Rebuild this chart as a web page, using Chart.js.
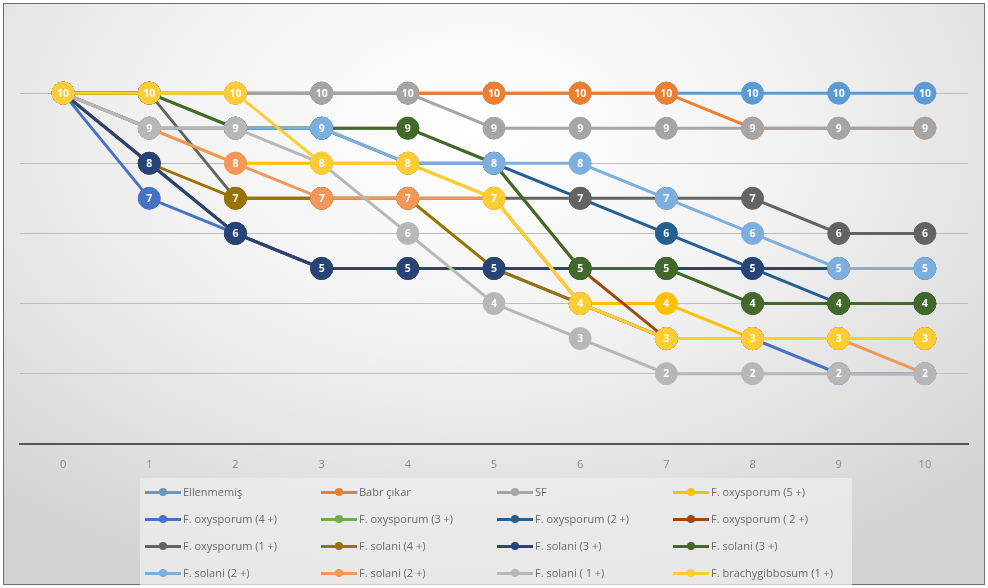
<!DOCTYPE html>
<html>
<head>
<meta charset="utf-8">
<script src="https://cdn.jsdelivr.net/npm/chart.js@4.4.1/dist/chart.umd.min.js"></script>
<style>
  html, body { margin: 0; padding: 0; }
  body { width: 988px; height: 588px; overflow: hidden; background: #ffffff; }
  #frame {
    position: absolute; left: 3px; top: 3px; width: 980px; height: 580px;
    border: 1px solid #6f6f6f;
    background: radial-gradient(ellipse 75% 85% at 48% 22%, #ffffff 0%, #f1f1f1 45%, #dedede 80%, #d2d2d2 100%);
  }
  #chartBox { position: absolute; left: 0; top: 0; width: 988px; height: 588px; }
  #legend {
    position: absolute; left: 140px; top: 478px; width: 712px; height: 107px;
    background: rgba(238,238,238,0.75);
    display: grid; grid-template-columns: repeat(4, 176px); grid-auto-rows: 27px;
    font-family: "Open Sans", "Liberation Sans", sans-serif; font-size: 11px; color: #6a6a6a;
  }
  .item { display: flex; align-items: center; padding-left: 5px; white-space: nowrap; }
  .mark { position: relative; width: 36px; height: 10px; margin-right: 2px; flex: none; }
  .mark .ln { position: absolute; left: 0; right: 0; top: 4px; height: 3px; }
  .mark .dot { position: absolute; left: 14px; top: 1px; width: 8px; height: 8px; border-radius: 50%; }
</style>
</head>
<body>
<div id="frame"></div>
<div id="chartBox"><canvas id="c" width="988" height="588"></canvas></div>
<div id="legend"></div>
<script>
// Category positions along the x axis
const xLabels = ['0', '1', '2', '3', '4', '5', '6', '7', '8', '9', '10'];

// Series names, in legend order
const seriesNames = [
  'Ellenmemiş', 'Babr çıkar', 'SF', 'F. oxysporum (5 +)',
  'F. oxysporum (4 +)', 'F. oxysporum (3 +)', 'F. oxysporum (2 +)', 'F. oxysporum ( 2 +)',
  'F. oxysporum (1 +)', 'F. solani (4 +)', 'F. solani (3 +)', 'F. solani (3 +)',
  'F. solani (2 +)', 'F. solani (2 +)', 'F. solani ( 1 +)', 'F. brachygibbosum (1 +)'
];

// Values of each series at x = 0 … 10
const ellenmemis  = [10, 10, 10, 10, 10, 10, 10, 10, 10, 10, 10];
const babrCikar   = [10, 10, 10, 10, 10, 10, 10, 10, 9, 9, 9];
const sf          = [10, 10, 10, 10, 10, 9, 9, 9, 9, 9, 9];
const oxy5        = [10, 9, 8, 8, 8, 7, 4, 4, 3, 3, 3];
const oxy4        = [10, 7, 6, 5, 5, 5, 4, 3, 3, 2, 2];
const oxy3        = [10, 10, 9, 9, 9, 8, 5, 5, 4, 4, 4];
const oxy2a       = [10, 9, 9, 9, 8, 8, 7, 6, 5, 4, 4];
const oxy2b       = [10, 8, 6, 5, 5, 5, 5, 3, 3, 3, 3];
const oxy1        = [10, 10, 7, 7, 7, 7, 7, 7, 7, 6, 6];
const solani4     = [10, 8, 7, 7, 7, 5, 4, 3, 3, 3, 3];
const solani3a    = [10, 8, 6, 5, 5, 5, 5, 5, 5, 5, 5];
const solani3b    = [10, 10, 9, 9, 9, 8, 5, 5, 4, 4, 4];
const solani2a    = [10, 9, 9, 9, 8, 8, 8, 7, 6, 5, 5];
const solani2b    = [10, 9, 8, 7, 7, 7, 4, 3, 3, 3, 2];
const solani1     = [10, 9, 9, 8, 6, 4, 3, 2, 2, 2, 2];
const brachy      = [10, 10, 10, 8, 8, 7, 4, 3, 3, 3, 3];

const seriesValues = [
  ellenmemis, babrCikar, sf, oxy5, oxy4, oxy3, oxy2a, oxy2b,
  oxy1, solani4, solani3a, solani3b, solani2a, solani2b, solani1, brachy
];

const seriesColors = [
  '#5B9BD5', '#ED7D31', '#A5A5A5', '#FFC000', '#4472C4', '#70AD47', '#255E91', '#9E480E',
  '#636363', '#997300', '#264478', '#43682B', '#7CAFDD', '#F1975A', '#B7B7B7', '#FFCD33'
];

// White value labels centred on each marker, drawn right after their own series
const valueLabels = {
  id: 'valueLabels',
  afterDatasetDraw(chart, args) {
    const ctx = chart.ctx;
    const ds = chart.data.datasets[args.index];
    ctx.save();
    ctx.font = 'bold 10.5px "Open Sans", "Liberation Sans", sans-serif';
    ctx.fillStyle = '#ffffff';
    ctx.textAlign = 'center';
    ctx.textBaseline = 'middle';
    args.meta.data.forEach((pt, i) => {
      ctx.fillText(String(ds.data[i]), pt.x, pt.y + 0.5);
    });
    ctx.restore();
  }
};

const n = seriesNames.length;
const datasets = seriesNames.map((name, i) => ({
  label: name,
  data: seriesValues[i],
  borderColor: seriesColors[i],
  backgroundColor: seriesColors[i],
  pointBackgroundColor: seriesColors[i],
  pointBorderColor: seriesColors[i],
  borderWidth: 3,
  pointRadius: 11,
  pointBorderWidth: 1,
  pointHoverRadius: 11,
  tension: 0,
  // later series are painted over earlier ones
  order: n - 1 - i
}));

const chart = new Chart(document.getElementById('c'), {
  type: 'line',
  data: { labels: xLabels, datasets },
  plugins: [valueLabels],
  options: {
    responsive: false,
    animation: false,
    layout: { padding: { left: 20, right: 20, top: 23, bottom: 103 } },
    plugins: {
      legend: { display: false, labels: { sort: (a, b) => a.datasetIndex - b.datasetIndex } },
      tooltip: { enabled: false }
    },
    scales: {
      x: {
        type: 'category',
        offset: true,
        grid: { display: false, drawTicks: false },
        border: { display: true, color: '#555555', width: 2 },
        ticks: {
          padding: 14,
          color: '#8a8a8a',
          font: { family: '"Open Sans", "Liberation Sans", sans-serif', size: 11 }
        }
      },
      y: {
        min: 0,
        max: 12,
        ticks: { display: false, stepSize: 2 },
        border: { display: false },
        grid: {
          drawTicks: false,
          lineWidth: 1,
          color: (c) => (c.tick && (c.tick.value === 0 || c.tick.value === 12)) ? 'rgba(0,0,0,0)' : '#bdbdbd'
        }
      }
    }
  }
});

// Legend laid out as a four-column grid from the chart's own legend items
const legendEl = document.getElementById('legend');
const items = Chart.defaults.plugins.legend.labels.generateLabels(chart)
  .sort((a, b) => a.datasetIndex - b.datasetIndex);
items.forEach(it => {
  const color = seriesColors[it.datasetIndex];
  const div = document.createElement('div');
  div.className = 'item';
  div.innerHTML = '<span class="mark"><span class="ln" style="background:' + color +
    '"></span><span class="dot" style="background:' + color + '"></span></span>';
  const txt = document.createElement('span');
  txt.textContent = it.text;
  div.appendChild(txt);
  legendEl.appendChild(div);
});
</script>
</body>
</html>
